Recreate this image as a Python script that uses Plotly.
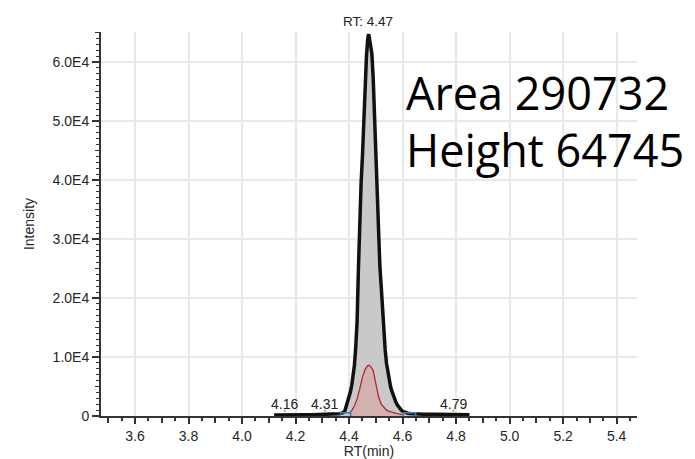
import plotly.graph_objects as go

# Extracted ion chromatogram (retention time in minutes, intensity in counts)
rt_trace = [4.12, 4.14, 4.16, 4.18, 4.20, 4.23, 4.26, 4.29, 4.31, 4.33, 4.35, 4.365, 4.375,
            4.380, 4.385, 4.390, 4.395, 4.400, 4.405, 4.410, 4.415, 4.420, 4.425, 4.430,
            4.435, 4.440, 4.445, 4.450, 4.455, 4.460, 4.465, 4.470, 4.473, 4.475, 4.480,
            4.485, 4.490, 4.495, 4.500, 4.505, 4.510, 4.515, 4.520, 4.525, 4.530, 4.535,
            4.540, 4.545, 4.550, 4.555, 4.560, 4.565, 4.570, 4.575, 4.580, 4.585, 4.590,
            4.595, 4.600, 4.610, 4.620, 4.635, 4.650, 4.680, 4.720, 4.760, 4.790, 4.820,
            4.850]
int_trace = [180, 200, 260, 210, 190, 200, 210, 220, 270, 230, 260, 380, 520,
             650, 970, 1700, 2500, 3200, 4100, 5200, 6600, 8600, 11700, 16000,
             25000, 33500, 39500, 44000, 50000, 56000, 61000, 64000, 64745, 64300, 63200,
             61500, 57500, 51000, 42000, 35000, 29000, 25500, 22000, 17800, 14000, 11200,
             8900, 7300, 6000, 5000, 4200, 3500, 2900, 2350, 1900, 1550, 1250,
             1000, 800, 600, 480, 400, 350, 300, 280, 270, 300, 240,
             200]

# Integrated window of the main peak
peak_start, peak_end = 4.368, 4.649

# Confirming ion trace
rt_qual = [4.400, 4.410, 4.420, 4.430, 4.440, 4.450, 4.460, 4.470, 4.475, 4.480, 4.490,
           4.500, 4.510, 4.520, 4.530, 4.540, 4.550, 4.560, 4.570, 4.580, 4.590, 4.600]
int_qual = [400, 900, 1700, 2900, 4600, 6600, 7900, 8550, 8600, 8450, 7700,
            5600, 3300, 2000, 1400, 1000, 780, 620, 500, 400, 320, 250]

# Integration boundary brackets
bracket_left_rt = [4.368, 4.368, 4.406, 4.406]
bracket_right_rt = [4.603, 4.603, 4.649, 4.649]
bracket_int = [0, 550, 550, 0]

# Labelled apexes
apex_rt = [4.16, 4.31, 4.79]
apex_labels = ["4.16", "4.31", "4.79"]
main_rt = 4.47
main_height = 64745
main_area = 290732

# Axis ticks
x_major = [3.6, 3.8, 4.0, 4.2, 4.4, 4.6, 4.8, 5.0, 5.2, 5.4]
x_mid = [3.5, 3.7, 3.9, 4.1, 4.3, 4.5, 4.7, 4.9, 5.1, 5.3]
y_major = [0, 10000, 20000, 30000, 40000, 50000, 60000]
y_labels = ["0", "1.0E4", "2.0E4", "3.0E4", "4.0E4", "5.0E4", "6.0E4"]
y_mid = [5000, 15000, 25000, 35000, 45000, 55000, 65000]

x_range = [3.473, 5.476]
y_range = [0, 65090]

tick_font = dict(family="Arial, Liberation Sans, sans-serif", size=14, color="#262626")

fig = go.Figure()

# Grey integrated area under the main peak
fill_rt = [r for r in rt_trace if peak_start <= r <= peak_end]
fill_int = [i for r, i in zip(rt_trace, int_trace) if peak_start <= r <= peak_end]
fig.add_trace(go.Scatter(x=fill_rt, y=fill_int, mode="lines", line=dict(width=0),
                         fill="tozeroy", fillcolor="#c9c9c9", hoverinfo="skip"))

# Confirming ion, filled
fig.add_trace(go.Scatter(x=rt_qual, y=int_qual, mode="lines",
                         line=dict(color="#b02a2a", width=1.3),
                         fill="tozeroy", fillcolor="rgba(214,168,168,0.75)"))

# Main trace
fig.add_trace(go.Scatter(x=rt_trace, y=int_trace, mode="lines",
                         line=dict(color="#111111", width=3.5)))

# Boundary brackets
for brt in (bracket_left_rt, bracket_right_rt):
    fig.add_trace(go.Scatter(x=brt, y=bracket_int, mode="lines",
                             line=dict(color="#3b7fc4", width=1.5)))

# Apex markers
apex_int = [int_trace[rt_trace.index(r)] for r in apex_rt]
fig.add_trace(go.Scatter(x=apex_rt, y=[v + 600 for v in apex_int], mode="markers",
                         marker=dict(color="#c2bc6a", size=2.5)))

# Overlay axes carrying the extra tick levels
fig.add_trace(go.Scatter(x=[x_range[0]], y=[0], xaxis="x2", yaxis="y2",
                         mode="markers", marker=dict(opacity=0), hoverinfo="skip"))

ann = [dict(x=main_rt, y=main_height, text=f"RT: {main_rt:.2f}", showarrow=False,
            yanchor="bottom", yshift=3, font=dict(family="Arial, Liberation Sans", size=13.5,
                                                   color="#222222"))]
for r, lab in zip(apex_rt, apex_labels):
    ann.append(dict(x=r, y=0, text=lab, showarrow=False, yanchor="middle", yshift=12,
                    font=dict(family="Arial, Liberation Sans", size=14, color="#222222")))
big_font = dict(family="Open Sans", size=45, color="#000000")
ann.append(dict(xref="paper", yref="paper", x=0.565, y=0.8424, xanchor="left",
                yanchor="middle", text=f"Area {main_area}", showarrow=False, font=big_font))
ann.append(dict(xref="paper", yref="paper", x=0.565, y=0.694, xanchor="left",
                yanchor="middle", text=f"Height {main_height}", showarrow=False, font=big_font))

fig.update_layout(
    width=695, height=459,
    margin=dict(l=101, r=58, t=32, b=43, autoexpand=False),
    paper_bgcolor="white", plot_bgcolor="white",
    showlegend=False,
    annotations=ann,
    xaxis=dict(range=x_range, tickvals=x_major, ticktext=[f"{v:.1f}" for v in x_major],
               automargin=False,
               ticks="outside", ticklen=6, tickwidth=1.5, tickcolor="#333333",
               showgrid=True, gridcolor="#e9e9e9", gridwidth=2, zeroline=False,
               showline=True, linecolor="#333333", linewidth=2,
               tickfont=tick_font,
               minor=dict(dtick=0.05, ticks="outside", ticklen=3, tickwidth=1.5,
                          tickcolor="#333333", showgrid=False),
               title=dict(text="RT(min)", font=tick_font, standoff=2)),
    yaxis=dict(range=y_range, tickvals=y_major, ticktext=y_labels,
               automargin=False,
               ticks="outside", ticklen=7, tickwidth=1.5, tickcolor="#333333",
               showgrid=True, gridcolor="#e9e9e9", gridwidth=2, zeroline=False,
               showline=True, linecolor="#333333", linewidth=2,
               tickfont=tick_font,
               minor=dict(dtick=1000, ticks="outside", ticklen=3, tickwidth=1.2,
                          tickcolor="#333333", showgrid=False),
               title=dict(text="Intensity", font=tick_font)),
    xaxis2=dict(range=x_range, overlaying="x", tickvals=x_mid, ticks="outside",
                automargin=False,
                ticklen=6, tickwidth=1.5, tickcolor="#333333", showticklabels=False,
                showgrid=False, zeroline=False, showline=False),
    yaxis2=dict(range=y_range, overlaying="y", tickvals=y_mid, ticks="outside",
                automargin=False,
                ticklen=5, tickwidth=1.2, tickcolor="#333333", showticklabels=False,
                showgrid=False, zeroline=False, showline=False),
)

fig.write_html("out.html")
